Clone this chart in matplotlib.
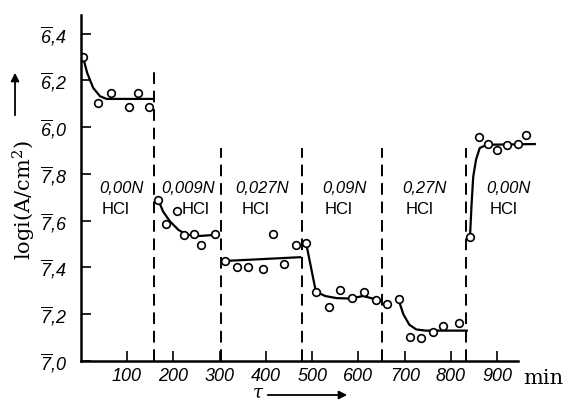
import matplotlib
matplotlib.use("Agg")
from matplotlib import pyplot as plt

plt.rcParams['mathtext.fontset'] = 'custom'
plt.rcParams['mathtext.rm'] = 'Liberation Sans:italic'
plt.rcParams['mathtext.it'] = 'Liberation Sans:italic'
tickfont = ['Liberation Sans', 'DejaVu Sans']

# measured points (log i), grouped by HCl concentration
x1 = [5, 38, 65, 104, 123, 148]
y1 = [-5.70, -5.895, -5.852, -5.912, -5.852, -5.912]
x2 = [168, 184, 207, 224, 245, 260, 290]
y2 = [-6.313, -6.413, -6.358, -6.460, -6.457, -6.503, -6.457]
x3 = [312, 337, 362, 393, 416, 439, 465]
y3 = [-6.572, -6.600, -6.596, -6.606, -6.456, -6.585, -6.503]
x4 = [487, 508, 536, 561, 587, 613, 638]
y4 = [-6.496, -6.703, -6.770, -6.696, -6.729, -6.703, -6.739]
x5 = [661, 687, 711, 736, 762, 783, 817]
y5 = [-6.756, -6.736, -6.899, -6.903, -6.877, -6.850, -6.839]
x6 = [841, 861, 880, 900, 922, 945, 962]
y6 = [-6.468, -6.042, -6.071, -6.099, -6.075, -6.071, -6.032]

# hand drawn curves through the points
cx1 = [5, 14, 27, 42, 56, 158]
cy1 = [-5.70, -5.768, -5.832, -5.868, -5.879, -5.879]
cx2 = [168, 178, 193, 211, 229, 258, 294]
cy2 = [-6.313, -6.361, -6.403, -6.439, -6.460, -6.465, -6.460]
cx3 = [312, 474]
cy3 = [-6.572, -6.556]
cx4 = [487, 508, 528, 553, 582, 610, 643, 650]
cy4 = [-6.496, -6.703, -6.722, -6.731, -6.733, -6.722, -6.739, -6.740]
cx5 = [687, 697, 710, 725, 745, 834]
cy5 = [-6.74, -6.80, -6.845, -6.865, -6.87, -6.87]
cx6 = [841, 844.5, 848, 854, 862, 877, 981]
cy6 = [-6.468, -6.325, -6.211, -6.139, -6.089, -6.075, -6.072]

# concentration changes
switch_t = [158, 303, 478, 650, 832]
switch_top = [-5.76, -6.09, -6.09, -6.09, -6.09]
conc = ["0,00N", "0,009N", "0,027N", "0,09N", "0,27N", "0,00N"]
conc_x = [89, 231, 391, 569, 742, 925]
hcl_x = [76, 247, 377, 556, 731, 914]

yticks = [-7.0, -6.8, -6.6, -6.4, -6.2, -6.0, -5.8, -5.6]
ylabels = [r'$\overline{7}$,0', r'$\overline{7}$,2', r'$\overline{7}$,4', r'$\overline{7}$,6',
           r'$\overline{7}$,8', r'$\overline{6}$,0', r'$\overline{6}$,2', r'$\overline{6}$,4']
xticks = [100, 200, 300, 400, 500, 600, 700, 800, 900]

fig = plt.figure(figsize=(5.64, 4.03), dpi=100)
ax = fig.add_axes([0.1431, 0.1042, 0.8232, 0.8586])

for xs, ys in [(cx1, cy1), (cx2, cy2), (cx3, cy3), (cx4, cy4), (cx5, cy5), (cx6, cy6)]:
    ax.plot(xs, ys, color='black', lw=1.6)
for xs, ys in [(x1, y1), (x2, y2), (x3, y3), (x4, y4), (x5, y5), (x6, y6)]:
    ax.plot(xs, ys, 'o', ms=5.5, mfc='white', mec='black', mew=1.2)

for t, top in zip(switch_t, switch_top):
    ax.plot([t, t], [-7.0, top], color='black', lw=1.4, dashes=(6, 3.5))

for c, cx, hx in zip(conc, conc_x, hcl_x):
    ax.text(cx, -6.263, c, ha='center', va='center', fontsize=12,
            style='italic', family=tickfont)
    ax.text(hx, -6.353, "HCl", ha='center', va='center', fontsize=12,
            family=tickfont)

ax.set_xlim(0, 1003)
ax.set_ylim(-7.0, -5.52)
ax.spines['top'].set_visible(False)
ax.spines['right'].set_visible(False)
ax.spines['left'].set_linewidth(1.8)
ax.spines['bottom'].set_linewidth(1.8)
ax.spines['bottom'].set_bounds(0, 944)

ax.set_yticks(yticks)
ax.set_yticklabels(ylabels)
ax.set_xticks(xticks)
ax.set_xticklabels([str(v) for v in xticks])
ax.tick_params(axis='y', direction='in', length=7, width=1.2, pad=10, labelsize=13)
ax.tick_params(axis='x', direction='in', length=7, width=1.2, pad=5, labelsize=13)
for lab in ax.get_xticklabels() + ax.get_yticklabels():
    lab.set_family(tickfont)
    lab.set_style('italic')

fig.text(24 / 564, 1 - 200 / 403, r'logi(A/cm$^2$)', rotation=90, ha='center', va='center',
         fontsize=15, family='DejaVu Serif', math_fontfamily='dejavuserif')
fig.text(543 / 564, 1 - 378 / 403, "min", ha='center', va='center', fontsize=15,
         family='DejaVu Serif')
fig.text(258 / 564, 1 - 393 / 403, "τ", ha='center', va='center', fontsize=13,
         family='DejaVu Serif', style='italic')
fig.add_artist(matplotlib.patches.FancyArrowPatch(
    (265 / 564, 1 - 395 / 403), (350 / 564, 1 - 395 / 403), transform=fig.transFigure,
    arrowstyle='-|>', mutation_scale=12, color='black', lw=1.3))
fig.add_artist(matplotlib.patches.FancyArrowPatch(
    (15 / 564, 1 - 118 / 403), (15 / 564, 1 - 70 / 403), transform=fig.transFigure,
    arrowstyle='-|>', mutation_scale=12, color='black', lw=1.3))

fig.savefig("out.png", dpi=100)
